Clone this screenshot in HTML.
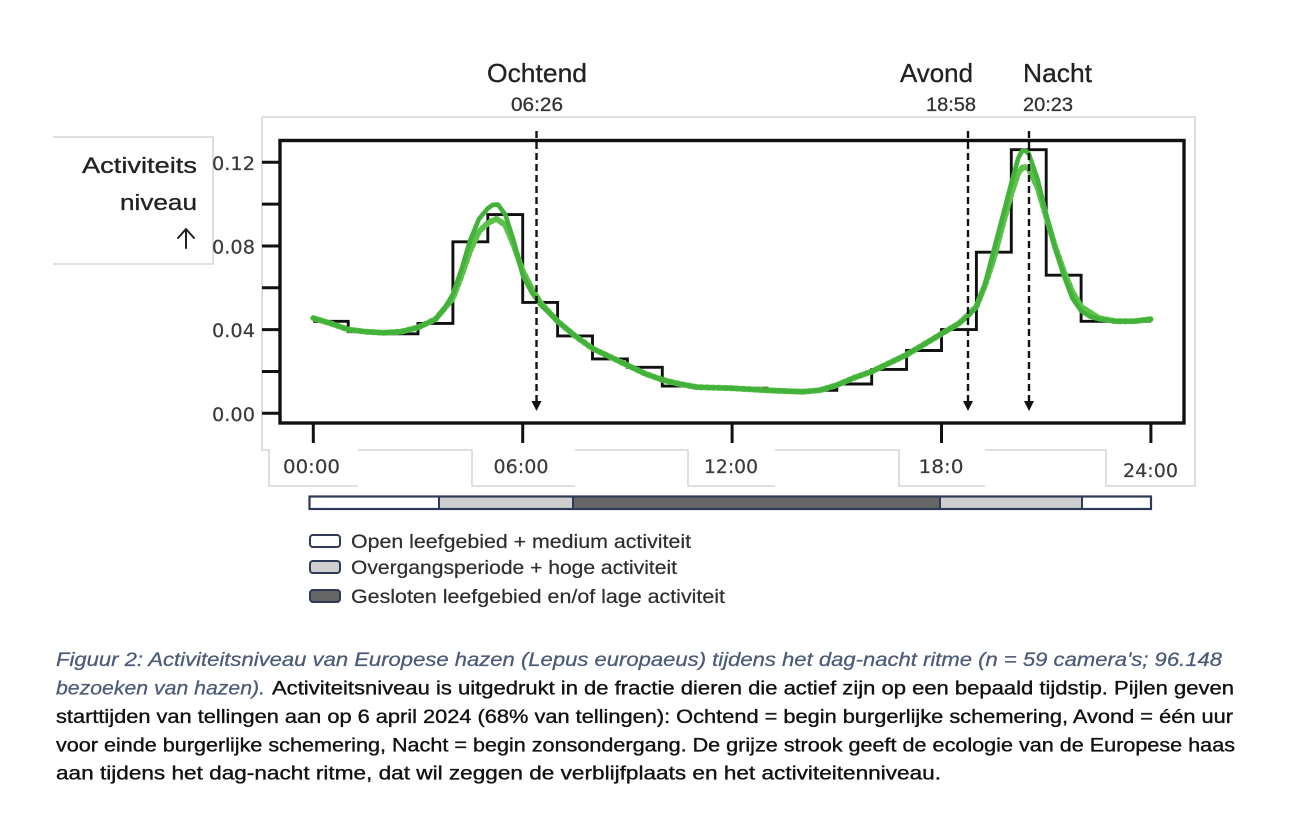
<!DOCTYPE html>
<html>
<head>
<meta charset="utf-8">
<style>
  html,body{margin:0;padding:0;background:#fff;}
  svg{display:block;}
</style>
</head>
<body>
<svg width="1299" height="840" viewBox="0 0 1299 840" xmlns="http://www.w3.org/2000/svg">
  <rect width="1299" height="840" fill="#fff"/>

  <!-- light gray outline boxes -->
  <g fill="none" stroke="#d6d6d6" stroke-width="1.6">
    <path d="M53,137 H213 V264 H53"/>
    <path d="M262,117 V450 H269 V486 H358"/>
    <path d="M358,450 H472 V486 H575"/>
    <path d="M575,450 H688 V486 H775"/>
    <path d="M775,450 H899 V486 H985"/>
    <path d="M985,450 H1106 V486 H1195 V117 H262"/>
  </g>

  <!-- Y-axis title -->
  <g font-family="'Liberation Sans', 'DejaVu Sans', sans-serif" fill="#222" stroke="#222" stroke-width="0.3" font-size="22">
    <text x="197" y="173" text-anchor="end" textLength="115" lengthAdjust="spacingAndGlyphs">Activiteits</text>
    <text x="197" y="210" text-anchor="end" textLength="77" lengthAdjust="spacingAndGlyphs">niveau</text>
  </g>
  <g stroke="#222" stroke-width="2" fill="none" stroke-linecap="round" stroke-linejoin="round">
    <path d="M186,230 V248"/>
    <path d="M178,238 L186,229 L194,238"/>
  </g>

  <!-- top labels -->
  <g font-family="'Liberation Sans', 'DejaVu Sans', sans-serif" fill="#222" stroke="#222" stroke-width="0.3">
    <text x="487" y="82" font-size="26" textLength="100" lengthAdjust="spacingAndGlyphs">Ochtend</text>
    <text x="900" y="82" font-size="26" textLength="73" lengthAdjust="spacingAndGlyphs">Avond</text>
    <text x="1023" y="82" font-size="26" textLength="69" lengthAdjust="spacingAndGlyphs">Nacht</text>
    <text x="511" y="111" font-size="19" fill="#333" stroke="#333" textLength="52" lengthAdjust="spacingAndGlyphs">06:26</text>
    <text x="926" y="111" font-size="19" fill="#333" stroke="#333" textLength="50" lengthAdjust="spacingAndGlyphs">18:58</text>
    <text x="1023" y="111" font-size="19" fill="#333" stroke="#333" textLength="50" lengthAdjust="spacingAndGlyphs">20:23</text>
  </g>

  <!-- plot frame -->
  <rect x="280" y="140.5" width="904" height="282.5" fill="none" stroke="#111" stroke-width="3.4"/>

  <!-- y ticks -->
  <g stroke="#111" stroke-width="3">
    <line x1="262" y1="162.3" x2="280" y2="162.3"/>
    <line x1="262" y1="204.1" x2="280" y2="204.1"/>
    <line x1="262" y1="246.0" x2="280" y2="246.0"/>
    <line x1="262" y1="287.8" x2="280" y2="287.8"/>
    <line x1="262" y1="329.6" x2="280" y2="329.6"/>
    <line x1="262" y1="371.5" x2="280" y2="371.5"/>
    <line x1="262" y1="413.3" x2="280" y2="413.3"/>
  </g>
  <!-- x ticks -->
  <g stroke="#111" stroke-width="3">
    <line x1="313.3" y1="424" x2="313.3" y2="443"/>
    <line x1="522.7" y1="424" x2="522.7" y2="443"/>
    <line x1="732.1" y1="424" x2="732.1" y2="443"/>
    <line x1="941.5" y1="424" x2="941.5" y2="443"/>
    <line x1="1150.9" y1="424" x2="1150.9" y2="443"/>
  </g>

  <!-- y tick labels -->
  <g font-family="'DejaVu Sans', 'Liberation Sans', sans-serif" font-size="18.5" fill="#3a3a3a" stroke="#3a3a3a" stroke-width="0.2" text-anchor="end">
    <text x="255" y="169.8" textLength="43" lengthAdjust="spacingAndGlyphs">0.12</text>
    <text x="255" y="253.5" textLength="43" lengthAdjust="spacingAndGlyphs">0.08</text>
    <text x="255" y="337.1" textLength="43" lengthAdjust="spacingAndGlyphs">0.04</text>
    <text x="255" y="420.8" textLength="43" lengthAdjust="spacingAndGlyphs">0.00</text>
  </g>
  <!-- x tick labels -->
  <g font-family="'DejaVu Sans', 'Liberation Sans', sans-serif" font-size="18.5" fill="#3a3a3a" stroke="#3a3a3a" stroke-width="0.2" text-anchor="middle">
    <text x="311.5" y="473" textLength="57" lengthAdjust="spacingAndGlyphs">00:00</text>
    <text x="521" y="473" textLength="55" lengthAdjust="spacingAndGlyphs">06:00</text>
    <text x="731" y="473" textLength="54" lengthAdjust="spacingAndGlyphs">12:00</text>
    <text x="941" y="473" textLength="45" lengthAdjust="spacingAndGlyphs">18:0</text>
    <text x="1150.5" y="477" textLength="55" lengthAdjust="spacingAndGlyphs">24:00</text>
  </g>

  <!-- step histogram -->
  <path d="M313.3,321.3 H348.2 V331.7 H383.1 V333.8 H418 V323.4 H452.9 V241.8 H487.8 V214.6 H522.7 V302.4 H557.6 V335.9 H592.5 V358.9 H627.4 V367.3 H662.3 V386.1 H697.2 V388.2 H767 V390.3 H836.8 V384 H871.7 V369.4 H906.6 V350.5 H941.5 V329.6 H976.4 V252.2 H1011.3 V149.7 H1046.2 V275.2 H1081.1 V321.3 H1150.9"
        fill="none" stroke="#111" stroke-width="2.9" stroke-linejoin="miter"/>

  <!-- dashed/dotted green curve -->
  <polyline fill="none" stroke="#5cc24a" stroke-width="6" stroke-dasharray="3 3" stroke-linecap="round" stroke-linejoin="round"
    points="313.3,318.1 330.8,323.4 348.2,329.6 365.7,331.7 383.1,332.8 400.6,331.7 418.0,327.5 435.5,319.2 452.9,298.3 461.6,275.2 470.4,250.1 479.1,231.3 487.8,223.0 496.5,218.8 505.3,225.1 514.0,246.0 522.7,271.1 531.5,287.8 540.2,302.4 557.6,321.3 575.1,335.9 592.5,348.5 610.0,356.8 627.4,365.2 644.9,373.6 662.3,379.8 679.8,384.0 697.2,387.2 732.1,388.2 767.0,390.3 801.9,391.8 819.4,390.3 836.8,385.1 854.3,377.7 871.7,371.5 889.2,363.1 906.6,354.7 924.1,344.3 941.5,333.8 959.0,323.4 976.4,306.6 985.1,285.0 993.8,258.5 1002.6,225.1 1011.3,193.7 1018.3,172.8 1023.5,166.5 1028.8,168.6 1037.5,187.4 1046.2,216.7 1054.9,246.0 1063.7,271.1 1072.4,292.0 1081.1,306.6 1098.6,318.0 1116.0,321.3 1133.5,321.3 1150.9,319.2"/>

  <!-- solid green curve -->
  <polyline fill="none" stroke="#43b23a" stroke-width="4.6" stroke-linecap="round" stroke-linejoin="round"
    points="313.3,318.1 330.8,323.4 348.2,329.6 365.7,331.7 383.1,332.8 400.6,331.7 418.0,327.5 435.5,319.2 444.2,309.0 452.9,294.1 461.6,269.0 470.4,239.7 479.1,218.8 487.8,208.3 493.0,204.8 498.0,204.6 505.3,214.6 514.0,241.8 522.7,275.2 531.5,292.0 540.2,304.5 557.6,321.3 575.1,335.9 592.5,348.5 610.0,356.8 627.4,365.2 644.9,373.6 662.3,379.8 679.8,384.0 697.2,387.2 732.1,388.2 767.0,390.3 801.9,391.8 819.4,390.3 836.8,385.1 854.3,377.7 871.7,371.5 889.2,363.1 906.6,354.7 924.1,344.3 941.5,333.8 959.0,323.4 968.0,316.5 976.4,306.6 985.1,283.6 993.8,250.1 1002.6,216.7 1011.3,183.2 1018.3,158.1 1022.0,151.0 1025.5,150.5 1028.8,153.9 1037.5,179.0 1046.2,214.6 1054.9,248.1 1063.7,275.2 1072.4,298.3 1081.1,310.8 1089.8,316.5 1098.6,319.2 1116.0,321.3 1133.5,321.3 1150.9,319.2"/>

  <!-- dashed arrows -->
  <g stroke="#111" stroke-width="2.4" stroke-dasharray="7 4">
    <line x1="536.5" y1="131" x2="536.5" y2="402"/>
    <line x1="968" y1="131" x2="968" y2="402"/>
    <line x1="1029" y1="131" x2="1029" y2="402"/>
  </g>
  <g fill="#111">
    <polygon points="531.5,401 541.5,401 536.5,411"/>
    <polygon points="963,401 973,401 968,411"/>
    <polygon points="1024,401 1034,401 1029,411"/>
  </g>

  <!-- ecology bar -->
  <rect x="309.5" y="496.5" width="129.5" height="12.5" fill="#ffffff"/>
  <rect x="439" y="496.5" width="134" height="12.5" fill="#cfcfcf"/>
  <rect x="573" y="496.5" width="367" height="12.5" fill="#666666"/>
  <rect x="940" y="496.5" width="142" height="12.5" fill="#cfcfcf"/>
  <rect x="1082" y="496.5" width="69" height="12.5" fill="#ffffff"/>
  <rect x="309.5" y="496.5" width="841.5" height="12.5" fill="none" stroke="#2f3a58" stroke-width="2.2"/>
  <g stroke="#2f3a58" stroke-width="2">
    <line x1="439" y1="496.5" x2="439" y2="509"/>
    <line x1="573" y1="496.5" x2="573" y2="509"/>
    <line x1="940" y1="496.5" x2="940" y2="509"/>
    <line x1="1082" y1="496.5" x2="1082" y2="509"/>
  </g>

  <!-- legend -->
  <g stroke="#2f3a58" stroke-width="2">
    <rect x="310" y="535" width="30" height="12" rx="3" fill="#ffffff"/>
    <rect x="310" y="561" width="30" height="12" rx="3" fill="#cfcfcf"/>
    <rect x="310" y="590" width="30" height="12" rx="3" fill="#666666"/>
  </g>
  <g font-family="'Liberation Sans', 'DejaVu Sans', sans-serif" font-size="19" fill="#2e2e2e" stroke="#2e2e2e" stroke-width="0.2">
    <text x="351" y="548" textLength="340" lengthAdjust="spacingAndGlyphs">Open leefgebied + medium activiteit</text>
    <text x="351" y="574" textLength="326" lengthAdjust="spacingAndGlyphs">Overgangsperiode + hoge activiteit</text>
    <text x="351" y="603" textLength="374" lengthAdjust="spacingAndGlyphs">Gesloten leefgebied en/of lage activiteit</text>
  </g>

  <!-- caption -->
  <g font-family="'Liberation Sans', 'DejaVu Sans', sans-serif" font-size="19">
    <text x="56" y="666" font-style="italic" fill="#4a5a78" stroke="#4a5a78" stroke-width="0.25" textLength="1166" lengthAdjust="spacingAndGlyphs">Figuur 2: Activiteitsniveau van Europese hazen (Lepus europaeus) tijdens het dag-nacht ritme (n = 59 camera's; 96.148</text>
    <text x="56" y="694.5" font-style="italic" fill="#4a5a78" stroke="#4a5a78" stroke-width="0.25" textLength="209" lengthAdjust="spacingAndGlyphs">bezoeken van hazen).</text>
    <g fill="#111" stroke="#111" stroke-width="0.35">
      <text x="272" y="694.5" textLength="962" lengthAdjust="spacingAndGlyphs">Activiteitsniveau is uitgedrukt in de fractie dieren die actief zijn op een bepaald tijdstip. Pijlen geven</text>
      <text x="56" y="723" textLength="1177" lengthAdjust="spacingAndGlyphs">starttijden van tellingen aan op 6 april 2024 (68% van tellingen): Ochtend = begin burgerlijke schemering, Avond = één uur</text>
      <text x="56" y="751.3" textLength="1179" lengthAdjust="spacingAndGlyphs">voor einde burgerlijke schemering, Nacht = begin zonsondergang. De grijze strook geeft de ecologie van de Europese haas</text>
      <text x="56" y="779.6" textLength="885" lengthAdjust="spacingAndGlyphs">aan tijdens het dag-nacht ritme, dat wil zeggen de verblijfplaats en het activiteitenniveau.</text>
    </g>
  </g>
</svg>
</body>
</html>
